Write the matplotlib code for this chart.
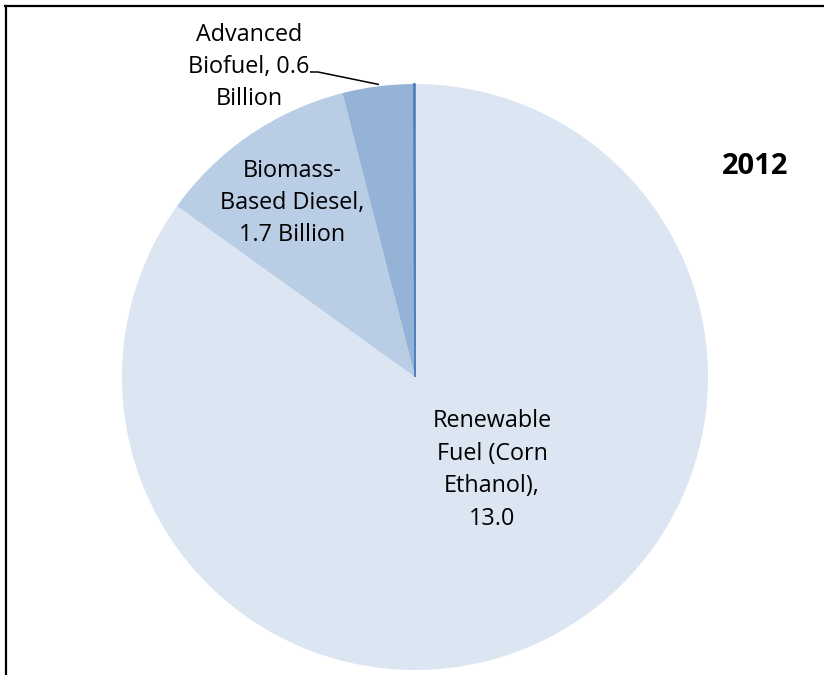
import matplotlib
matplotlib.use("Agg")
import matplotlib.pyplot as plt
from matplotlib.lines import Line2D

categories = ["Renewable Fuel (Corn Ethanol)", "Biomass-Based Diesel", "Advanced Biofuel", "Cellulosic Biofuel"]
values = [13.0, 1.7, 0.6, 0.01]
labels = ["Renewable\nFuel (Corn\nEthanol),\n13.0", "Biomass-\nBased Diesel,\n1.7 Billion", "Advanced\nBiofuel, 0.6\nBillion", ""]
colors = ["#DCE6F2", "#B9CDE5", "#95B3D7", "#4F81BD"]
year = "2012"

W, H = 824, 675
cx, cy, R = 415, 377, 293

fig = plt.figure(figsize=(W / 100, H / 100), dpi=100)
ax = fig.add_axes([0, 0, 1, 1])

wedges, _ = ax.pie(values, colors=colors, startangle=90, counterclock=False,
                   radius=1.0, wedgeprops=dict(linewidth=0))
wedges[3].set_edgecolor(colors[3])
wedges[3].set_linewidth(1.2)

ax.set_aspect("auto")
ax.set_xlim(-cx / R, (W - cx) / R)
ax.set_ylim(-(H - cy) / R, cy / R)
ax.axis("off")

font = "Open Sans"
def px(x, y):
    return ((x - cx) / R, (cy - y) / R)

ax.text(*px(492, 470), labels[0], ha="center", va="center", fontsize=16.8,
        family=font, linespacing=1.48, color="black")
ax.text(*px(292, 203), labels[1], ha="center", va="center", fontsize=16.8,
        family=font, linespacing=1.45, color="black")
ax.text(*px(249, 67), labels[2], ha="center", va="center", fontsize=16.8,
        family=font, linespacing=1.45, color="black")

# leader line for Advanced Biofuel label
lx = [px(310, 72)[0], px(318, 72)[0], px(379, 84.5)[0]]
ly = [px(310, 72)[1], px(318, 72)[1], px(379, 84.5)[1]]
ax.plot(lx, ly, color="black", linewidth=1.1, solid_capstyle="butt")

ax.text(*px(755, 166), year, ha="center", va="center", fontsize=21,
        fontweight="bold", family=font, color="black")

# frame (left and top edges)
fig.add_artist(Line2D([6 / W, 6 / W], [0, 1 - 5.7 / H], transform=fig.transFigure,
                      color="black", linewidth=1.6))
fig.add_artist(Line2D([5 / W, 1], [1 - 5.7 / H, 1 - 5.7 / H], transform=fig.transFigure,
                      color="black", linewidth=1.6))

fig.savefig("out.png", dpi=100)
